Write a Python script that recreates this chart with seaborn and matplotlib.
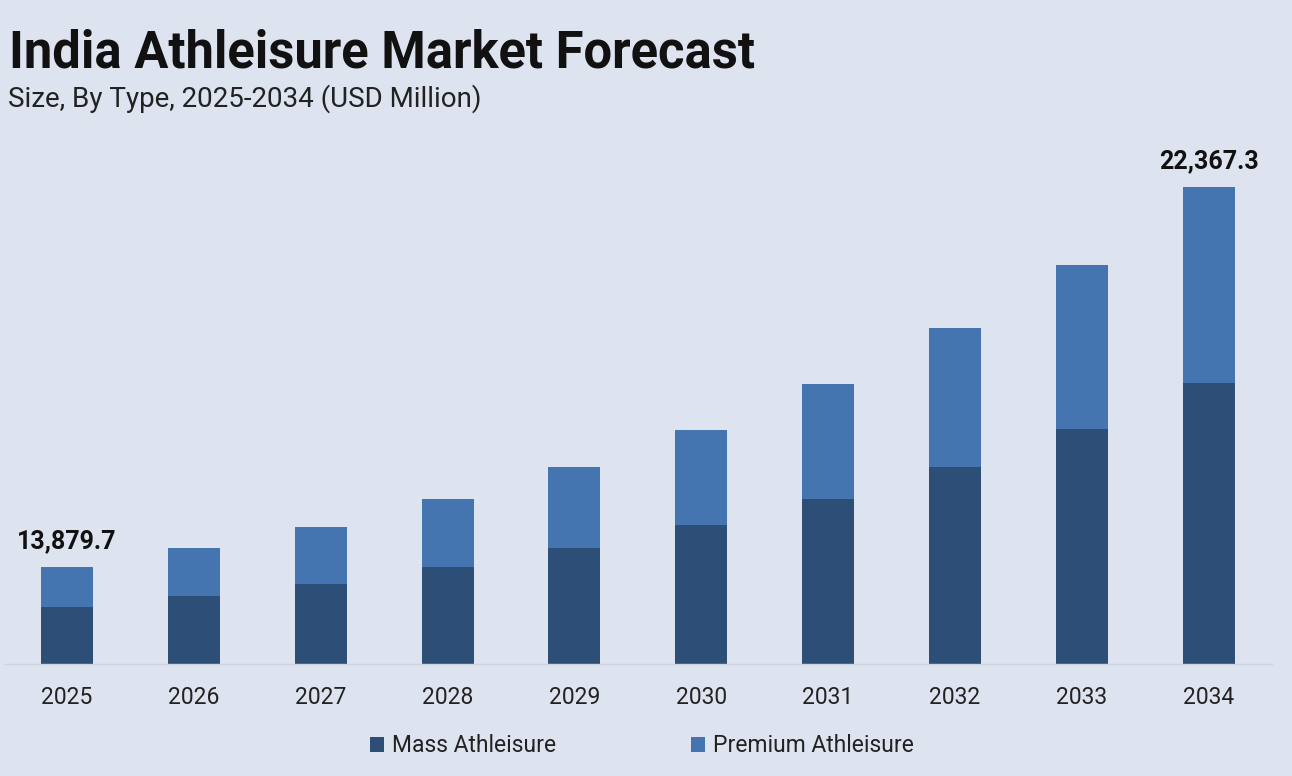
import matplotlib
matplotlib.use("Agg")
import matplotlib.pyplot as plt
from matplotlib.patches import Patch
import seaborn as sns
import pandas as pd

# data (USD Million)
years = ["2025", "2026", "2027", "2028", "2029", "2030", "2031", "2032", "2033", "2034"]
mass = [12979.0, 13231.5, 13506.4, 13873.0, 14311.2, 14818.6, 15406.5, 16108.4, 16971.3, 17999.6]
premium = [900.7, 1079.7, 1274.2, 1520.1, 1797.2, 2130.3, 2564.0, 3107.2, 3666.1, 4367.7]
labelled = {"2025": 13879.7, "2034": 22367.3}

bg = "#dde4f0"
mass_color = "#2c4e77"
premium_color = "#4475b1"

df = pd.DataFrame({"Year": years, "Mass": mass, "Premium": premium})
df["Total"] = df["Mass"] + df["Premium"]

sns.set_theme(style="white")
plt.rcParams["font.family"] = ["Roboto", "DejaVu Sans"]

fig = plt.figure(figsize=(12.92, 7.76), dpi=100)
fig.patch.set_facecolor(bg)
ax = fig.add_axes([5 / 1292, 112 / 776, 1267 / 1292, 524 / 776])
ax.set_facecolor(bg)

# stacked bars: total in premium colour, mass drawn over it
sns.barplot(data=df, x="Year", y="Total", color=premium_color, width=0.41,
            saturation=1, linewidth=0, ax=ax)
sns.barplot(data=df, x="Year", y="Mass", color=mass_color, width=0.41,
            saturation=1, linewidth=0, ax=ax)

# truncated value axis as in the original
ax.set_ylim(11711, 23425)
ax.set_xlim(-0.49, 9.5)

for i, yr in enumerate(years):
    if yr in labelled:
        ax.annotate(f"{labelled[yr]:,.1f}", (i, df["Total"][i]), xytext=(0, 10),
                    textcoords="offset points", ha="center", va="bottom",
                    fontsize=18, fontweight="bold", color="#111111")

for s in ["top", "right", "left"]:
    ax.spines[s].set_visible(False)
ax.spines["bottom"].set_color("#cdd3de")
ax.spines["bottom"].set_linewidth(1)
ax.set_yticks([])
ax.set_xlabel("")
ax.set_ylabel("")
ax.tick_params(axis="x", length=0, pad=16, labelsize=16.5, labelcolor="#222222")

fig.text(9 / 1292, 1 - 68 / 776, "India Athleisure Market Forecast",
         fontsize=36.5, fontweight="bold", color="#111111", ha="left", va="baseline")
fig.text(8 / 1292, 1 - 107 / 776, "Size, By Type, 2025-2034 (USD Million)",
         fontsize=20, color="#222222", ha="left", va="baseline")

handles = [Patch(facecolor=mass_color, edgecolor="none", label="Mass Athleisure"),
           Patch(facecolor=premium_color, edgecolor="none", label="Premium Athleisure")]
fig.legend(handles=handles, loc="center", bbox_to_anchor=(642 / 1292, 1 - 746 / 776),
           ncol=2, frameon=False, fontsize=16.5, handlelength=0.6, handleheight=0.6,
           handletextpad=0.35, columnspacing=5.9, labelcolor="#222222")

fig.savefig("out.png", dpi=100, facecolor=bg)
